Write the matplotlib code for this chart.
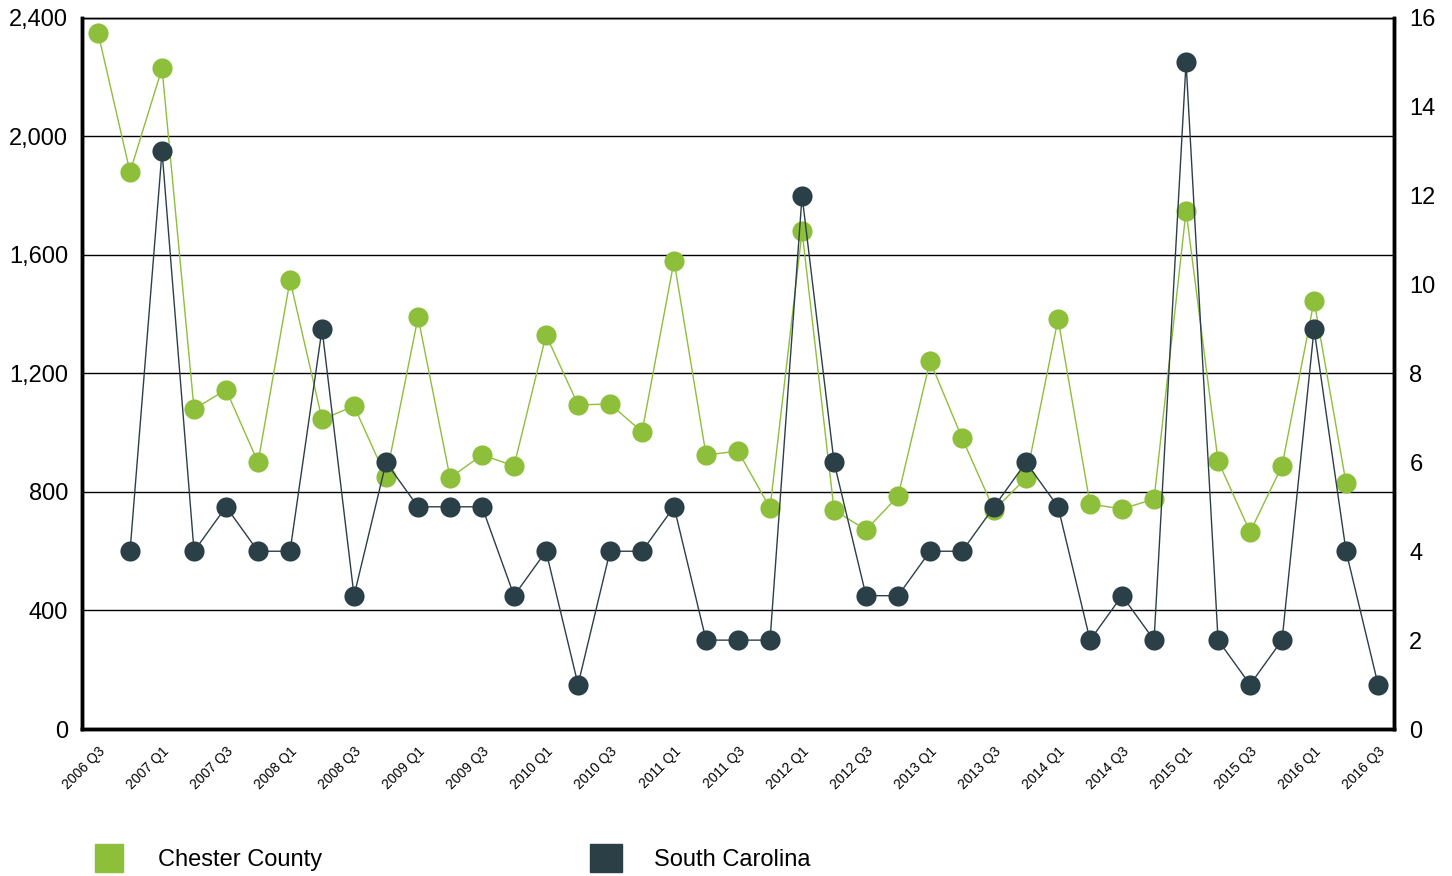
import numpy as np
import matplotlib
matplotlib.use('Agg')
import matplotlib.pyplot as plt
from matplotlib.patches import Rectangle

plt.rcParams['font.family'] = ['Liberation Sans', 'DejaVu Sans']

# Data
quarters = []
for yr in range(2006, 2017):
    for q in range(1, 5):
        quarters.append(f'{yr} Q{q}')
quarters = quarters[2:43]  # 2006 Q3 .. 2016 Q3

chester = [2350, 1880, 2230, 1080, 1145, 900, 1515, 1045, 1090, 850,
           1390, 848, 925, 888, 1330, 1094, 1097, 1003, 1580, 925,
           938, 746, 1680, 739, 672, 786, 1242, 982, 739, 847,
           1384, 759, 743, 776, 1749, 905, 665, 888, 1445, 830, np.nan]
south_carolina = [np.nan, 4, 13, 4, 5, 4, 4, 9, 3, 6,
                  5, 5, 5, 3, 4, 1, 4, 4, 5, 2,
                  2, 2, 12, 6, 3, 3, 4, 4, 5, 6,
                  5, 2, 3, 2, 15, 2, 1, 2, 9, 4, 1]

green = '#8dbf3b'
dark = '#2b3f47'

fig = plt.figure(figsize=(14.52, 8.76), dpi=100)
ax = fig.add_axes([0.0565, 0.1678, 0.9036, 0.8117])
ax2 = ax.twinx()

x = np.arange(len(quarters))
ax.plot(x, chester, color=green, lw=1, marker='o', markersize=14.5,
        markeredgewidth=0, zorder=3)
ax2.plot(x, south_carolina, color=dark, lw=1, marker='o', markersize=14.5,
         markeredgewidth=0, zorder=3)

ax.set_xlim(-0.5, 40.5)
ax.set_ylim(0, 2400)
ax.set_yticks(range(0, 2401, 400))
ax.set_yticklabels([f'{v:,}' for v in range(0, 2401, 400)], fontsize=17)
ax2.set_ylim(0, 16)
ax2.set_yticks(range(0, 17, 2))
ax2.set_yticklabels([str(v) for v in range(0, 17, 2)], fontsize=17)

ax.set_xticks(x[::2])
ax.set_xticklabels(quarters[::2], rotation=45, ha='right', va='top',
                   rotation_mode='anchor', fontsize=10)

ax.grid(axis='y', color='black', lw=1)
ax.set_axisbelow(True)
ax.tick_params(axis='y', length=0, pad=10)
ax.tick_params(axis='x', length=0, pad=11)
ax2.tick_params(axis='y', length=0, pad=11)

for a in (ax, ax2):
    a.spines['left'].set_linewidth(2.5)
    a.spines['bottom'].set_linewidth(2.5)
    a.spines['right'].set_linewidth(2.5)
    a.spines['top'].set_linewidth(1)

# Legend
fig.add_artist(Rectangle((95 / 1452, 1 - 872 / 876), 28 / 1452, 28 / 876,
                         transform=fig.transFigure, color=green))
fig.text(158 / 1452, 1 - 860 / 876, 'Chester County', fontsize=17,
         va='center', ha='left')
fig.add_artist(Rectangle((590 / 1452, 1 - 872 / 876), 32 / 1452, 28 / 876,
                         transform=fig.transFigure, color=dark))
fig.text(654 / 1452, 1 - 860 / 876, 'South Carolina', fontsize=17,
         va='center', ha='left')

fig.savefig('out.png', dpi=100)
